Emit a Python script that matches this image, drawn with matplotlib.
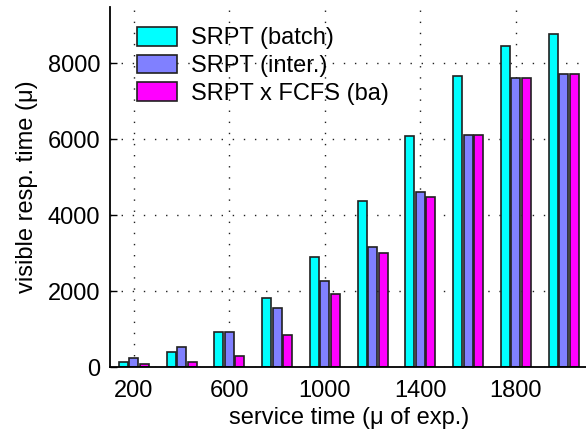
import numpy as np
import matplotlib
matplotlib.use('Agg')
import matplotlib.pyplot as plt

# service time (mean of exponential) for each group
serviceTimes = [200, 400, 600, 800, 1000, 1200, 1400, 1600, 1800, 2000]
# visible response times
srptBatch = [130, 385, 910, 1810, 2900, 4370, 6090, 7660, 8455, 8780]
srptInter = [245, 535, 930, 1545, 2270, 3150, 4620, 6115, 7615, 7725]
srptFcfs = [70, 130, 290, 835, 1920, 3000, 4490, 6115, 7615, 7725]
seriesNames = ['SRPT (batch)', 'SRPT (inter.)', 'SRPT x FCFS (ba)']
xTicks = [200, 600, 1000, 1400, 1800]
yTicks = [0, 2000, 4000, 6000, 8000]

plt.rcParams['font.family'] = ['Liberation Sans', 'DejaVu Sans']
plt.rcParams['font.size'] = 17

fig = plt.figure(figsize=(5.86, 4.33), dpi=100)
ax = fig.add_axes([0.1877, 0.1524, 0.8148, 0.8314])

x = np.array(serviceTimes)
barW = 38
offset = 44
colors = ['#00ffff', '#8080ff', '#ff00ff']
for i, vals in enumerate([srptBatch, srptInter, srptFcfs]):
	ax.bar(x + (i - 1) * offset, vals, width=barW, color=colors[i],
		edgecolor='#202020', linewidth=1.2, label=seriesNames[i], zorder=2)

ax.set_xlim(100, 2100)
ax.set_ylim(0, 9480)
ax.set_xticks(xTicks)
ax.set_yticks(yTicks)
ax.grid(True, color='#202020', linestyle=(0, (1, 7)), linewidth=1.0, zorder=0)
ax.set_axisbelow(True)
for side in ['top', 'right']:
	ax.spines[side].set_visible(False)
for side in ['left', 'bottom']:
	ax.spines[side].set_linewidth(1.3)
ax.tick_params(direction='in', length=5, width=1, pad=7)
ax.tick_params(axis='x', length=0, pad=9)

ax.set_xlabel('service time (\u03bc of exp.)', labelpad=4)
ax.set_ylabel('visible resp. time (\u03bc)', labelpad=7)

ax.legend(loc='upper left', bbox_to_anchor=(0.234, 0.938), bbox_transform=fig.transFigure,
	frameon=False, borderpad=0, handlelength=1.7, handleheight=0.85,
	handletextpad=0.6, labelspacing=0.22, borderaxespad=0)

plt.savefig('out.png', dpi=100)
plt.close()
